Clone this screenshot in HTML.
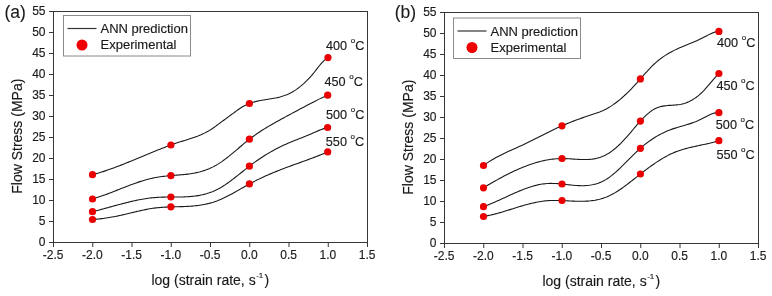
<!DOCTYPE html>
<html><head><meta charset="utf-8"><style>
html,body{margin:0;padding:0;background:#fff;}
svg{display:block;will-change:transform;}
text{font-family:"Liberation Sans",sans-serif;fill:#1a1a1a;stroke:#1a1a1a;stroke-width:0.15px;}
.tk{font-size:12px;}
.lg{font-size:13px;}
.tl{font-size:12.7px;}
.deg{font-size:8px;}
.sup{font-size:8px;}
.ax{font-size:14px;}
.pl{font-size:17.5px;stroke-width:0.1px;}
</style></head><body>
<svg width="772" height="296" viewBox="0 0 772 296">
<rect x="53.5" y="11.5" width="314.0" height="231.0" fill="none" stroke="#363636" stroke-width="1"/>
<line x1="49.0" y1="242.50" x2="53.5" y2="242.50" stroke="#363636" stroke-width="1"/>
<text x="45.5" y="245.90" class="tk" text-anchor="end">0</text>
<line x1="49.0" y1="221.50" x2="53.5" y2="221.50" stroke="#363636" stroke-width="1"/>
<text x="45.5" y="224.90" class="tk" text-anchor="end">5</text>
<line x1="49.0" y1="200.50" x2="53.5" y2="200.50" stroke="#363636" stroke-width="1"/>
<text x="45.5" y="203.90" class="tk" text-anchor="end">10</text>
<line x1="49.0" y1="179.50" x2="53.5" y2="179.50" stroke="#363636" stroke-width="1"/>
<text x="45.5" y="182.90" class="tk" text-anchor="end">15</text>
<line x1="49.0" y1="158.50" x2="53.5" y2="158.50" stroke="#363636" stroke-width="1"/>
<text x="45.5" y="161.90" class="tk" text-anchor="end">20</text>
<line x1="49.0" y1="137.50" x2="53.5" y2="137.50" stroke="#363636" stroke-width="1"/>
<text x="45.5" y="140.90" class="tk" text-anchor="end">25</text>
<line x1="49.0" y1="116.50" x2="53.5" y2="116.50" stroke="#363636" stroke-width="1"/>
<text x="45.5" y="119.90" class="tk" text-anchor="end">30</text>
<line x1="49.0" y1="95.50" x2="53.5" y2="95.50" stroke="#363636" stroke-width="1"/>
<text x="45.5" y="98.90" class="tk" text-anchor="end">35</text>
<line x1="49.0" y1="74.50" x2="53.5" y2="74.50" stroke="#363636" stroke-width="1"/>
<text x="45.5" y="77.90" class="tk" text-anchor="end">40</text>
<line x1="49.0" y1="53.50" x2="53.5" y2="53.50" stroke="#363636" stroke-width="1"/>
<text x="45.5" y="56.90" class="tk" text-anchor="end">45</text>
<line x1="49.0" y1="32.50" x2="53.5" y2="32.50" stroke="#363636" stroke-width="1"/>
<text x="45.5" y="35.90" class="tk" text-anchor="end">50</text>
<line x1="49.0" y1="11.50" x2="53.5" y2="11.50" stroke="#363636" stroke-width="1"/>
<text x="45.5" y="14.90" class="tk" text-anchor="end">55</text>
<line x1="53.50" y1="242.5" x2="53.50" y2="247.0" stroke="#363636" stroke-width="1"/>
<text x="53.20" y="259.1" class="tk" text-anchor="middle">-2.5</text>
<line x1="92.75" y1="242.5" x2="92.75" y2="247.0" stroke="#363636" stroke-width="1"/>
<text x="92.45" y="259.1" class="tk" text-anchor="middle">-2.0</text>
<line x1="132.00" y1="242.5" x2="132.00" y2="247.0" stroke="#363636" stroke-width="1"/>
<text x="131.70" y="259.1" class="tk" text-anchor="middle">-1.5</text>
<line x1="171.25" y1="242.5" x2="171.25" y2="247.0" stroke="#363636" stroke-width="1"/>
<text x="170.95" y="259.1" class="tk" text-anchor="middle">-1.0</text>
<line x1="210.50" y1="242.5" x2="210.50" y2="247.0" stroke="#363636" stroke-width="1"/>
<text x="210.20" y="259.1" class="tk" text-anchor="middle">-0.5</text>
<line x1="249.75" y1="242.5" x2="249.75" y2="247.0" stroke="#363636" stroke-width="1"/>
<text x="249.45" y="259.1" class="tk" text-anchor="middle">0.0</text>
<line x1="289.00" y1="242.5" x2="289.00" y2="247.0" stroke="#363636" stroke-width="1"/>
<text x="288.70" y="259.1" class="tk" text-anchor="middle">0.5</text>
<line x1="328.25" y1="242.5" x2="328.25" y2="247.0" stroke="#363636" stroke-width="1"/>
<text x="327.95" y="259.1" class="tk" text-anchor="middle">1.0</text>
<line x1="367.50" y1="242.5" x2="367.50" y2="247.0" stroke="#363636" stroke-width="1"/>
<text x="367.20" y="259.1" class="tk" text-anchor="middle">1.5</text>
<rect x="63.5" y="15.5" width="127" height="40.5" fill="#fff" stroke="#8a8a8a" stroke-width="1"/>
<line x1="67.5" y1="28.5" x2="96.5" y2="28.5" stroke="#333" stroke-width="1.2"/>
<circle cx="82.0" cy="45.0" r="5.5" fill="#f00000"/>
<text x="100.5" y="33.1" class="lg">ANN prediction</text>
<text x="100.5" y="49.1" class="lg">Experimental</text>
<path d="M92.50,174.70 L94.00,174.30 L95.50,173.88 L97.00,173.45 L98.50,173.01 L100.00,172.55 L101.50,172.08 L103.00,171.61 L104.50,171.12 L106.00,170.62 L107.50,170.10 L109.00,169.58 L110.50,169.05 L112.00,168.52 L113.50,167.97 L115.00,167.41 L116.50,166.85 L118.00,166.28 L119.50,165.70 L121.00,165.12 L122.50,164.53 L124.00,163.94 L125.50,163.34 L127.00,162.73 L128.50,162.12 L130.00,161.51 L131.50,160.90 L133.00,160.28 L134.50,159.66 L136.00,159.04 L137.50,158.41 L139.00,157.79 L140.50,157.16 L142.00,156.53 L143.50,155.91 L145.00,155.28 L146.50,154.66 L148.00,154.04 L149.50,153.42 L151.00,152.80 L152.50,152.18 L154.00,151.57 L155.50,150.96 L157.00,150.36 L158.50,149.76 L160.00,149.16 L161.50,148.57 L163.00,147.99 L164.50,147.41 L166.00,146.84 L167.50,146.28 L169.00,145.72 L170.50,145.18 L172.00,144.64 L173.50,144.11 L175.00,143.59 L176.50,143.07 L178.00,142.57 L179.50,142.08 L181.00,141.60 L182.50,141.13 L184.00,140.67 L185.50,140.21 L187.00,139.74 L188.50,139.27 L190.00,138.80 L191.50,138.31 L193.00,137.81 L194.50,137.29 L196.00,136.75 L197.50,136.19 L199.00,135.59 L200.50,134.97 L202.00,134.31 L203.50,133.62 L205.00,132.88 L206.50,132.10 L208.00,131.27 L209.50,130.39 L211.00,129.45 L212.50,128.47 L214.00,127.44 L215.50,126.37 L217.00,125.28 L218.50,124.17 L220.00,123.05 L221.50,121.93 L223.00,120.81 L224.50,119.69 L226.00,118.58 L227.50,117.48 L229.00,116.38 L230.50,115.28 L232.00,114.18 L233.50,113.08 L235.00,111.98 L236.50,110.89 L238.00,109.81 L239.50,108.76 L241.00,107.76 L242.50,106.84 L244.00,105.99 L245.50,105.21 L247.00,104.51 L248.50,103.87 L250.00,103.29 L251.50,102.76 L253.00,102.28 L254.50,101.86 L256.00,101.47 L257.50,101.11 L259.00,100.79 L260.50,100.50 L262.00,100.23 L263.50,99.97 L265.00,99.73 L266.50,99.50 L268.00,99.27 L269.50,99.03 L271.00,98.80 L272.50,98.55 L274.00,98.28 L275.50,97.99 L277.00,97.68 L278.50,97.34 L280.00,96.97 L281.50,96.55 L283.00,96.09 L284.50,95.58 L286.00,95.02 L287.50,94.40 L289.00,93.72 L290.50,92.97 L292.00,92.17 L293.50,91.29 L295.00,90.36 L296.50,89.35 L298.00,88.28 L299.50,87.15 L301.00,85.95 L302.50,84.68 L304.00,83.34 L305.50,81.93 L307.00,80.45 L308.50,78.90 L310.00,77.28 L311.50,75.59 L313.00,73.82 L314.50,71.99 L316.00,70.09 L317.50,68.17 L319.00,66.26 L320.50,64.42 L322.00,62.68 L323.50,61.09 L325.00,59.68 L326.50,58.50 L328.00,57.60" fill="none" stroke="#1a1a1a" stroke-width="1.1"/>
<path d="M92.50,199.00 L94.01,198.53 L95.52,198.07 L97.02,197.59 L98.53,197.10 L100.04,196.59 L101.55,196.07 L103.05,195.54 L104.56,194.99 L106.07,194.44 L107.58,193.87 L109.08,193.30 L110.59,192.73 L112.10,192.14 L113.61,191.56 L115.12,190.96 L116.62,190.37 L118.13,189.78 L119.64,189.18 L121.15,188.58 L122.65,187.99 L124.16,187.40 L125.67,186.81 L127.18,186.23 L128.68,185.65 L130.19,185.08 L131.70,184.52 L133.21,183.97 L134.72,183.43 L136.22,182.90 L137.73,182.38 L139.24,181.87 L140.75,181.38 L142.25,180.91 L143.76,180.45 L145.27,180.01 L146.78,179.58 L148.28,179.18 L149.79,178.80 L151.30,178.44 L152.81,178.10 L154.32,177.78 L155.82,177.50 L157.33,177.23 L158.84,176.99 L160.35,176.77 L161.85,176.57 L163.36,176.38 L164.87,176.22 L166.38,176.06 L167.88,175.92 L169.39,175.78 L170.90,175.65 L172.41,175.53 L173.92,175.41 L175.42,175.29 L176.93,175.17 L178.44,175.05 L179.95,174.92 L181.45,174.79 L182.96,174.65 L184.47,174.49 L185.98,174.33 L187.48,174.15 L188.99,173.95 L190.50,173.73 L192.01,173.50 L193.52,173.24 L195.02,172.95 L196.53,172.64 L198.04,172.30 L199.55,171.93 L201.05,171.52 L202.56,171.09 L204.07,170.61 L205.58,170.10 L207.08,169.54 L208.59,168.95 L210.10,168.30 L211.61,167.62 L213.12,166.88 L214.62,166.09 L216.13,165.25 L217.64,164.36 L219.15,163.41 L220.65,162.41 L222.16,161.37 L223.67,160.28 L225.18,159.16 L226.68,158.00 L228.19,156.82 L229.70,155.61 L231.21,154.37 L232.72,153.12 L234.22,151.86 L235.73,150.58 L237.24,149.30 L238.75,148.02 L240.25,146.74 L241.76,145.47 L243.27,144.20 L244.78,142.95 L246.28,141.72 L247.79,140.51 L249.30,139.32 L250.81,138.16 L252.32,137.04 L253.82,135.94 L255.33,134.86 L256.84,133.81 L258.35,132.78 L259.85,131.78 L261.36,130.80 L262.87,129.83 L264.38,128.89 L265.88,127.96 L267.39,127.05 L268.90,126.15 L270.41,125.27 L271.92,124.40 L273.42,123.53 L274.93,122.68 L276.44,121.84 L277.95,121.00 L279.45,120.17 L280.96,119.34 L282.47,118.52 L283.98,117.69 L285.48,116.87 L286.99,116.06 L288.50,115.24 L290.01,114.43 L291.52,113.62 L293.02,112.81 L294.53,112.00 L296.04,111.20 L297.55,110.40 L299.05,109.59 L300.56,108.80 L302.07,108.00 L303.58,107.20 L305.08,106.41 L306.59,105.61 L308.10,104.82 L309.61,104.03 L311.12,103.24 L312.62,102.45 L314.13,101.67 L315.64,100.90 L317.15,100.13 L318.65,99.37 L320.16,98.63 L321.67,97.91 L323.18,97.20 L324.68,96.50 L326.19,95.84 L327.70,95.20" fill="none" stroke="#1a1a1a" stroke-width="1.1"/>
<path d="M92.50,211.70 L94.01,211.31 L95.51,210.93 L97.02,210.55 L98.53,210.16 L100.04,209.76 L101.54,209.36 L103.05,208.95 L104.56,208.54 L106.06,208.13 L107.57,207.72 L109.08,207.30 L110.58,206.89 L112.09,206.47 L113.60,206.06 L115.11,205.65 L116.61,205.23 L118.12,204.83 L119.63,204.42 L121.13,204.02 L122.64,203.62 L124.15,203.23 L125.66,202.85 L127.16,202.47 L128.67,202.10 L130.18,201.74 L131.68,201.39 L133.19,201.04 L134.70,200.71 L136.20,200.38 L137.71,200.07 L139.22,199.77 L140.73,199.49 L142.23,199.21 L143.74,198.95 L145.25,198.71 L146.75,198.48 L148.26,198.27 L149.77,198.07 L151.28,197.89 L152.78,197.73 L154.29,197.59 L155.80,197.47 L157.30,197.37 L158.81,197.28 L160.32,197.21 L161.82,197.16 L163.33,197.12 L164.84,197.09 L166.35,197.06 L167.85,197.05 L169.36,197.04 L170.87,197.04 L172.37,197.03 L173.88,197.03 L175.39,197.03 L176.89,197.02 L178.40,197.01 L179.91,196.99 L181.42,196.96 L182.92,196.93 L184.43,196.88 L185.94,196.82 L187.44,196.74 L188.95,196.65 L190.46,196.53 L191.97,196.40 L193.47,196.24 L194.98,196.06 L196.49,195.86 L197.99,195.63 L199.50,195.37 L201.01,195.07 L202.51,194.75 L204.02,194.39 L205.53,193.99 L207.04,193.56 L208.54,193.09 L210.05,192.57 L211.56,192.02 L213.06,191.42 L214.57,190.77 L216.08,190.07 L217.59,189.32 L219.09,188.53 L220.60,187.67 L222.11,186.77 L223.61,185.83 L225.12,184.84 L226.63,183.81 L228.13,182.75 L229.64,181.66 L231.15,180.54 L232.66,179.40 L234.16,178.23 L235.67,177.05 L237.18,175.86 L238.68,174.65 L240.19,173.45 L241.70,172.24 L243.21,171.03 L244.71,169.82 L246.22,168.63 L247.73,167.45 L249.23,166.28 L250.74,165.14 L252.25,164.01 L253.75,162.91 L255.26,161.83 L256.77,160.76 L258.28,159.72 L259.78,158.70 L261.29,157.69 L262.80,156.71 L264.30,155.75 L265.81,154.81 L267.32,153.89 L268.83,152.98 L270.33,152.10 L271.84,151.24 L273.35,150.40 L274.85,149.58 L276.36,148.78 L277.87,148.00 L279.37,147.23 L280.88,146.49 L282.39,145.77 L283.90,145.07 L285.40,144.39 L286.91,143.72 L288.42,143.08 L289.92,142.44 L291.43,141.82 L292.94,141.21 L294.44,140.61 L295.95,140.01 L297.46,139.42 L298.97,138.82 L300.47,138.23 L301.98,137.64 L303.49,137.04 L304.99,136.43 L306.50,135.82 L308.01,135.20 L309.52,134.56 L311.02,133.91 L312.53,133.25 L314.04,132.59 L315.54,131.92 L317.05,131.27 L318.56,130.63 L320.06,130.01 L321.57,129.43 L323.08,128.87 L324.59,128.36 L326.09,127.90 L327.60,127.50" fill="none" stroke="#1a1a1a" stroke-width="1.1"/>
<path d="M92.50,219.50 L94.01,219.39 L95.52,219.28 L97.02,219.15 L98.53,219.00 L100.04,218.84 L101.55,218.66 L103.05,218.47 L104.56,218.26 L106.07,218.04 L107.58,217.81 L109.08,217.57 L110.59,217.31 L112.10,217.04 L113.61,216.76 L115.12,216.47 L116.62,216.17 L118.13,215.86 L119.64,215.54 L121.15,215.21 L122.65,214.87 L124.16,214.53 L125.67,214.17 L127.18,213.82 L128.68,213.46 L130.19,213.09 L131.70,212.73 L133.21,212.37 L134.72,212.01 L136.22,211.65 L137.73,211.30 L139.24,210.95 L140.75,210.61 L142.25,210.28 L143.76,209.96 L145.27,209.65 L146.78,209.35 L148.28,209.07 L149.79,208.80 L151.30,208.55 L152.81,208.32 L154.32,208.11 L155.82,207.92 L157.33,207.75 L158.84,207.60 L160.35,207.46 L161.85,207.35 L163.36,207.25 L164.87,207.16 L166.38,207.08 L167.88,207.02 L169.39,206.96 L170.90,206.91 L172.41,206.87 L173.92,206.83 L175.42,206.79 L176.93,206.75 L178.44,206.71 L179.95,206.67 L181.45,206.63 L182.96,206.58 L184.47,206.53 L185.98,206.46 L187.48,206.39 L188.99,206.30 L190.50,206.20 L192.01,206.08 L193.52,205.95 L195.02,205.81 L196.53,205.64 L198.04,205.45 L199.55,205.25 L201.05,205.02 L202.56,204.77 L204.07,204.49 L205.58,204.18 L207.08,203.85 L208.59,203.49 L210.10,203.10 L211.61,202.68 L213.12,202.23 L214.62,201.74 L216.13,201.22 L217.64,200.67 L219.15,200.07 L220.65,199.44 L222.16,198.78 L223.67,198.08 L225.18,197.36 L226.68,196.61 L228.19,195.84 L229.70,195.04 L231.21,194.23 L232.72,193.41 L234.22,192.57 L235.73,191.72 L237.24,190.86 L238.75,190.00 L240.25,189.13 L241.76,188.27 L243.27,187.41 L244.78,186.55 L246.28,185.70 L247.79,184.86 L249.30,184.03 L250.81,183.22 L252.32,182.42 L253.82,181.64 L255.33,180.87 L256.84,180.11 L258.35,179.37 L259.85,178.64 L261.36,177.92 L262.87,177.22 L264.38,176.53 L265.88,175.85 L267.39,175.18 L268.90,174.52 L270.41,173.87 L271.92,173.23 L273.42,172.60 L274.93,171.98 L276.44,171.37 L277.95,170.76 L279.45,170.17 L280.96,169.58 L282.47,169.00 L283.98,168.42 L285.48,167.85 L286.99,167.29 L288.50,166.73 L290.01,166.17 L291.52,165.62 L293.02,165.08 L294.53,164.53 L296.04,163.99 L297.55,163.45 L299.05,162.91 L300.56,162.36 L302.07,161.82 L303.58,161.28 L305.08,160.73 L306.59,160.19 L308.10,159.63 L309.61,159.08 L311.12,158.52 L312.62,157.95 L314.13,157.38 L315.64,156.81 L317.15,156.22 L318.65,155.63 L320.16,155.03 L321.67,154.42 L323.18,153.81 L324.68,153.18 L326.19,152.54 L327.70,151.90" fill="none" stroke="#1a1a1a" stroke-width="1.1"/>
<circle cx="92.5" cy="174.7" r="3.6" fill="#ea0000"/>
<circle cx="170.9" cy="145" r="3.6" fill="#ea0000"/>
<circle cx="249.4" cy="103.5" r="3.6" fill="#ea0000"/>
<circle cx="328" cy="57.6" r="3.6" fill="#ea0000"/>
<circle cx="92.5" cy="199" r="3.6" fill="#ea0000"/>
<circle cx="170.9" cy="175.6" r="3.6" fill="#ea0000"/>
<circle cx="249.4" cy="139.2" r="3.6" fill="#ea0000"/>
<circle cx="327.7" cy="95.2" r="3.6" fill="#ea0000"/>
<circle cx="92.5" cy="211.7" r="3.6" fill="#ea0000"/>
<circle cx="170.9" cy="197" r="3.6" fill="#ea0000"/>
<circle cx="249.4" cy="166.2" r="3.6" fill="#ea0000"/>
<circle cx="327.6" cy="127.5" r="3.6" fill="#ea0000"/>
<circle cx="92.5" cy="219.5" r="3.6" fill="#ea0000"/>
<circle cx="170.9" cy="206.8" r="3.6" fill="#ea0000"/>
<circle cx="249.4" cy="183.9" r="3.6" fill="#ea0000"/>
<circle cx="327.7" cy="151.9" r="3.6" fill="#ea0000"/>
<text x="326" y="50" class="tl">400 <tspan class="deg" dy="-7">o</tspan><tspan dy="7">C</tspan></text>
<text x="324.5" y="86" class="tl">450 <tspan class="deg" dy="-7">o</tspan><tspan dy="7">C</tspan></text>
<text x="326" y="118.5" class="tl">500 <tspan class="deg" dy="-7">o</tspan><tspan dy="7">C</tspan></text>
<text x="325.8" y="146" class="tl">550 <tspan class="deg" dy="-7">o</tspan><tspan dy="7">C</tspan></text>
<text x="4.5" y="17.6" class="pl">(a)</text>
<text x="151.4" y="284.9" class="ax">log (strain rate, s<tspan class="sup" dy="-7" dx="0.5">-1</tspan><tspan dy="7" dx="1.2">)</tspan></text>
<text transform="translate(21.6,136.2) rotate(-90)" class="ax" text-anchor="middle">Flow Stress (MPa)</text>
<rect x="444.5" y="12.5" width="314.0" height="231.0" fill="none" stroke="#363636" stroke-width="1"/>
<line x1="440.0" y1="243.50" x2="444.5" y2="243.50" stroke="#363636" stroke-width="1"/>
<text x="436.5" y="246.90" class="tk" text-anchor="end">0</text>
<line x1="440.0" y1="222.50" x2="444.5" y2="222.50" stroke="#363636" stroke-width="1"/>
<text x="436.5" y="225.90" class="tk" text-anchor="end">5</text>
<line x1="440.0" y1="201.50" x2="444.5" y2="201.50" stroke="#363636" stroke-width="1"/>
<text x="436.5" y="204.90" class="tk" text-anchor="end">10</text>
<line x1="440.0" y1="180.50" x2="444.5" y2="180.50" stroke="#363636" stroke-width="1"/>
<text x="436.5" y="183.90" class="tk" text-anchor="end">15</text>
<line x1="440.0" y1="159.50" x2="444.5" y2="159.50" stroke="#363636" stroke-width="1"/>
<text x="436.5" y="162.90" class="tk" text-anchor="end">20</text>
<line x1="440.0" y1="138.50" x2="444.5" y2="138.50" stroke="#363636" stroke-width="1"/>
<text x="436.5" y="141.90" class="tk" text-anchor="end">25</text>
<line x1="440.0" y1="117.50" x2="444.5" y2="117.50" stroke="#363636" stroke-width="1"/>
<text x="436.5" y="120.90" class="tk" text-anchor="end">30</text>
<line x1="440.0" y1="96.50" x2="444.5" y2="96.50" stroke="#363636" stroke-width="1"/>
<text x="436.5" y="99.90" class="tk" text-anchor="end">35</text>
<line x1="440.0" y1="75.50" x2="444.5" y2="75.50" stroke="#363636" stroke-width="1"/>
<text x="436.5" y="78.90" class="tk" text-anchor="end">40</text>
<line x1="440.0" y1="54.50" x2="444.5" y2="54.50" stroke="#363636" stroke-width="1"/>
<text x="436.5" y="57.90" class="tk" text-anchor="end">45</text>
<line x1="440.0" y1="33.50" x2="444.5" y2="33.50" stroke="#363636" stroke-width="1"/>
<text x="436.5" y="36.90" class="tk" text-anchor="end">50</text>
<line x1="440.0" y1="12.50" x2="444.5" y2="12.50" stroke="#363636" stroke-width="1"/>
<text x="436.5" y="15.90" class="tk" text-anchor="end">55</text>
<line x1="444.50" y1="243.5" x2="444.50" y2="248.0" stroke="#363636" stroke-width="1"/>
<text x="444.20" y="260.1" class="tk" text-anchor="middle">-2.5</text>
<line x1="483.75" y1="243.5" x2="483.75" y2="248.0" stroke="#363636" stroke-width="1"/>
<text x="483.45" y="260.1" class="tk" text-anchor="middle">-2.0</text>
<line x1="523.00" y1="243.5" x2="523.00" y2="248.0" stroke="#363636" stroke-width="1"/>
<text x="522.70" y="260.1" class="tk" text-anchor="middle">-1.5</text>
<line x1="562.25" y1="243.5" x2="562.25" y2="248.0" stroke="#363636" stroke-width="1"/>
<text x="561.95" y="260.1" class="tk" text-anchor="middle">-1.0</text>
<line x1="601.50" y1="243.5" x2="601.50" y2="248.0" stroke="#363636" stroke-width="1"/>
<text x="601.20" y="260.1" class="tk" text-anchor="middle">-0.5</text>
<line x1="640.75" y1="243.5" x2="640.75" y2="248.0" stroke="#363636" stroke-width="1"/>
<text x="640.45" y="260.1" class="tk" text-anchor="middle">0.0</text>
<line x1="680.00" y1="243.5" x2="680.00" y2="248.0" stroke="#363636" stroke-width="1"/>
<text x="679.70" y="260.1" class="tk" text-anchor="middle">0.5</text>
<line x1="719.25" y1="243.5" x2="719.25" y2="248.0" stroke="#363636" stroke-width="1"/>
<text x="718.95" y="260.1" class="tk" text-anchor="middle">1.0</text>
<line x1="758.50" y1="243.5" x2="758.50" y2="248.0" stroke="#363636" stroke-width="1"/>
<text x="758.20" y="260.1" class="tk" text-anchor="middle">1.5</text>
<rect x="453.5" y="18" width="127" height="40.5" fill="#fff" stroke="#8a8a8a" stroke-width="1"/>
<line x1="457.5" y1="31" x2="486.5" y2="31" stroke="#333" stroke-width="1.2"/>
<circle cx="472.0" cy="47.5" r="5.5" fill="#f00000"/>
<text x="490.5" y="35.6" class="lg">ANN prediction</text>
<text x="490.5" y="51.6" class="lg">Experimental</text>
<path d="M483.50,165.50 L485.01,164.41 L486.52,163.37 L488.03,162.36 L489.54,161.39 L491.04,160.45 L492.55,159.55 L494.06,158.67 L495.57,157.82 L497.08,157.00 L498.59,156.20 L500.10,155.42 L501.61,154.67 L503.12,153.93 L504.63,153.20 L506.13,152.49 L507.64,151.79 L509.15,151.10 L510.66,150.42 L512.17,149.74 L513.68,149.06 L515.19,148.39 L516.70,147.71 L518.21,147.03 L519.72,146.35 L521.22,145.65 L522.73,144.95 L524.24,144.24 L525.75,143.52 L527.26,142.79 L528.77,142.06 L530.28,141.31 L531.79,140.56 L533.30,139.81 L534.81,139.05 L536.31,138.29 L537.82,137.53 L539.33,136.77 L540.84,136.00 L542.35,135.24 L543.86,134.48 L545.37,133.72 L546.88,132.97 L548.39,132.21 L549.89,131.47 L551.40,130.73 L552.91,130.00 L554.42,129.27 L555.93,128.56 L557.44,127.85 L558.95,127.16 L560.46,126.47 L561.97,125.80 L563.48,125.14 L564.98,124.50 L566.49,123.87 L568.00,123.25 L569.51,122.64 L571.02,122.04 L572.53,121.45 L574.04,120.88 L575.55,120.31 L577.06,119.75 L578.57,119.20 L580.07,118.66 L581.58,118.13 L583.09,117.61 L584.60,117.09 L586.11,116.58 L587.62,116.07 L589.13,115.57 L590.64,115.08 L592.15,114.58 L593.66,114.09 L595.16,113.59 L596.67,113.07 L598.18,112.52 L599.69,111.95 L601.20,111.34 L602.71,110.69 L604.22,109.98 L605.73,109.22 L607.24,108.41 L608.74,107.54 L610.25,106.62 L611.76,105.65 L613.27,104.63 L614.78,103.56 L616.29,102.44 L617.80,101.27 L619.31,100.06 L620.82,98.80 L622.33,97.49 L623.83,96.15 L625.34,94.76 L626.85,93.33 L628.36,91.86 L629.87,90.35 L631.38,88.81 L632.89,87.23 L634.40,85.61 L635.91,83.96 L637.42,82.28 L638.92,80.58 L640.43,78.86 L641.94,77.15 L643.45,75.43 L644.96,73.73 L646.47,72.05 L647.98,70.40 L649.49,68.78 L651.00,67.22 L652.51,65.70 L654.01,64.25 L655.52,62.87 L657.03,61.55 L658.54,60.30 L660.05,59.11 L661.56,57.97 L663.07,56.89 L664.58,55.86 L666.09,54.88 L667.59,53.95 L669.10,53.06 L670.61,52.21 L672.12,51.40 L673.63,50.62 L675.14,49.87 L676.65,49.15 L678.16,48.46 L679.67,47.80 L681.18,47.15 L682.68,46.52 L684.19,45.90 L685.70,45.29 L687.21,44.68 L688.72,44.07 L690.23,43.47 L691.74,42.85 L693.25,42.22 L694.76,41.58 L696.27,40.92 L697.77,40.24 L699.28,39.53 L700.79,38.78 L702.30,38.01 L703.81,37.22 L705.32,36.42 L706.83,35.64 L708.34,34.87 L709.85,34.14 L711.36,33.47 L712.86,32.86 L714.37,32.33 L715.88,31.90 L717.39,31.58 L718.90,31.40" fill="none" stroke="#1a1a1a" stroke-width="1.1"/>
<path d="M483.50,187.80 L485.01,186.86 L486.52,185.96 L488.03,185.07 L489.54,184.19 L491.04,183.31 L492.55,182.44 L494.06,181.57 L495.57,180.72 L497.08,179.88 L498.59,179.04 L500.10,178.21 L501.61,177.40 L503.12,176.59 L504.63,175.80 L506.13,175.02 L507.64,174.25 L509.15,173.49 L510.66,172.75 L512.17,172.02 L513.68,171.30 L515.19,170.60 L516.70,169.91 L518.21,169.24 L519.72,168.59 L521.22,167.95 L522.73,167.33 L524.24,166.72 L525.75,166.14 L527.26,165.57 L528.77,165.02 L530.28,164.48 L531.79,163.97 L533.30,163.48 L534.81,163.01 L536.31,162.56 L537.82,162.13 L539.33,161.72 L540.84,161.34 L542.35,160.98 L543.86,160.64 L545.37,160.33 L546.88,160.03 L548.39,159.77 L549.89,159.53 L551.40,159.31 L552.91,159.12 L554.42,158.96 L555.93,158.82 L557.44,158.72 L558.95,158.64 L560.46,158.58 L561.97,158.56 L563.48,158.56 L564.98,158.59 L566.49,158.65 L568.00,158.72 L569.51,158.80 L571.02,158.89 L572.53,158.99 L574.04,159.10 L575.55,159.20 L577.06,159.29 L578.57,159.38 L580.07,159.45 L581.58,159.51 L583.09,159.54 L584.60,159.55 L586.11,159.53 L587.62,159.48 L589.13,159.39 L590.64,159.26 L592.15,159.09 L593.66,158.87 L595.16,158.60 L596.67,158.27 L598.18,157.89 L599.69,157.43 L601.20,156.92 L602.71,156.33 L604.22,155.66 L605.73,154.92 L607.24,154.10 L608.74,153.19 L610.25,152.20 L611.76,151.14 L613.27,150.01 L614.78,148.80 L616.29,147.52 L617.80,146.17 L619.31,144.75 L620.82,143.28 L622.33,141.73 L623.83,140.13 L625.34,138.48 L626.85,136.78 L628.36,135.05 L629.87,133.29 L631.38,131.52 L632.89,129.74 L634.40,127.96 L635.91,126.19 L637.42,124.45 L638.92,122.73 L640.43,121.05 L641.94,119.43 L643.45,117.85 L644.96,116.35 L646.47,114.92 L647.98,113.58 L649.49,112.33 L651.00,111.18 L652.51,110.15 L654.01,109.24 L655.52,108.45 L657.03,107.79 L658.54,107.23 L660.05,106.77 L661.56,106.40 L663.07,106.10 L664.58,105.87 L666.09,105.68 L667.59,105.54 L669.10,105.42 L670.61,105.33 L672.12,105.24 L673.63,105.14 L675.14,105.03 L676.65,104.89 L678.16,104.72 L679.67,104.49 L681.18,104.20 L682.68,103.85 L684.19,103.43 L685.70,102.94 L687.21,102.37 L688.72,101.73 L690.23,101.01 L691.74,100.21 L693.25,99.32 L694.76,98.35 L696.27,97.28 L697.77,96.13 L699.28,94.87 L700.79,93.52 L702.30,92.08 L703.81,90.53 L705.32,88.89 L706.83,87.19 L708.34,85.44 L709.85,83.66 L711.36,81.88 L712.86,80.10 L714.37,78.36 L715.88,76.66 L717.39,75.03 L718.90,73.50" fill="none" stroke="#1a1a1a" stroke-width="1.1"/>
<path d="M483.50,206.70 L485.01,206.13 L486.52,205.56 L488.03,204.97 L489.54,204.36 L491.04,203.73 L492.55,203.09 L494.06,202.44 L495.57,201.78 L497.08,201.10 L498.59,200.42 L500.10,199.73 L501.61,199.04 L503.12,198.34 L504.63,197.64 L506.13,196.94 L507.64,196.24 L509.15,195.55 L510.66,194.86 L512.17,194.17 L513.68,193.49 L515.19,192.82 L516.70,192.16 L518.21,191.52 L519.72,190.88 L521.22,190.26 L522.73,189.66 L524.24,189.08 L525.75,188.51 L527.26,187.97 L528.77,187.45 L530.28,186.95 L531.79,186.48 L533.30,186.04 L534.81,185.63 L536.31,185.24 L537.82,184.89 L539.33,184.58 L540.84,184.29 L542.35,184.05 L543.86,183.84 L545.37,183.68 L546.88,183.55 L548.39,183.47 L549.89,183.42 L551.40,183.41 L552.91,183.43 L554.42,183.48 L555.93,183.56 L557.44,183.66 L558.95,183.77 L560.46,183.91 L561.97,184.06 L563.48,184.21 L564.98,184.38 L566.49,184.54 L568.00,184.71 L569.51,184.87 L571.02,185.03 L572.53,185.18 L574.04,185.31 L575.55,185.43 L577.06,185.53 L578.57,185.61 L580.07,185.67 L581.58,185.69 L583.09,185.69 L584.60,185.65 L586.11,185.57 L587.62,185.45 L589.13,185.28 L590.64,185.07 L592.15,184.81 L593.66,184.49 L595.16,184.12 L596.67,183.68 L598.18,183.19 L599.69,182.62 L601.20,181.99 L602.71,181.28 L604.22,180.50 L605.73,179.64 L607.24,178.70 L608.74,177.68 L610.25,176.59 L611.76,175.43 L613.27,174.21 L614.78,172.93 L616.29,171.61 L617.80,170.24 L619.31,168.84 L620.82,167.40 L622.33,165.93 L623.83,164.45 L625.34,162.94 L626.85,161.43 L628.36,159.91 L629.87,158.39 L631.38,156.88 L632.89,155.38 L634.40,153.89 L635.91,152.43 L637.42,151.00 L638.92,149.60 L640.43,148.24 L641.94,146.92 L643.45,145.65 L644.96,144.42 L646.47,143.24 L647.98,142.10 L649.49,141.00 L651.00,139.94 L652.51,138.92 L654.01,137.94 L655.52,137.00 L657.03,136.10 L658.54,135.24 L660.05,134.42 L661.56,133.63 L663.07,132.89 L664.58,132.17 L666.09,131.50 L667.59,130.85 L669.10,130.24 L670.61,129.67 L672.12,129.13 L673.63,128.62 L675.14,128.13 L676.65,127.66 L678.16,127.21 L679.67,126.77 L681.18,126.34 L682.68,125.91 L684.19,125.48 L685.70,125.04 L687.21,124.59 L688.72,124.12 L690.23,123.64 L691.74,123.13 L693.25,122.59 L694.76,122.02 L696.27,121.41 L697.77,120.76 L699.28,120.06 L700.79,119.32 L702.30,118.53 L703.81,117.74 L705.32,116.94 L706.83,116.16 L708.34,115.41 L709.85,114.72 L711.36,114.10 L712.86,113.57 L714.37,113.14 L715.88,112.84 L717.39,112.68 L718.90,112.70" fill="none" stroke="#1a1a1a" stroke-width="1.1"/>
<path d="M483.50,216.50 L485.01,216.23 L486.52,215.95 L488.03,215.65 L489.54,215.33 L491.04,214.98 L492.55,214.62 L494.06,214.25 L495.57,213.86 L497.08,213.45 L498.59,213.03 L500.10,212.60 L501.61,212.17 L503.12,211.72 L504.63,211.26 L506.13,210.80 L507.64,210.34 L509.15,209.87 L510.66,209.39 L512.17,208.92 L513.68,208.45 L515.19,207.98 L516.70,207.51 L518.21,207.05 L519.72,206.59 L521.22,206.14 L522.73,205.69 L524.24,205.26 L525.75,204.84 L527.26,204.43 L528.77,204.03 L530.28,203.64 L531.79,203.27 L533.30,202.92 L534.81,202.59 L536.31,202.28 L537.82,201.99 L539.33,201.72 L540.84,201.47 L542.35,201.25 L543.86,201.05 L545.37,200.88 L546.88,200.74 L548.39,200.63 L549.89,200.55 L551.40,200.49 L552.91,200.45 L554.42,200.44 L555.93,200.44 L557.44,200.46 L558.95,200.49 L560.46,200.53 L561.97,200.59 L563.48,200.65 L564.98,200.72 L566.49,200.80 L568.00,200.87 L569.51,200.95 L571.02,201.02 L572.53,201.09 L574.04,201.15 L575.55,201.20 L577.06,201.25 L578.57,201.28 L580.07,201.29 L581.58,201.29 L583.09,201.27 L584.60,201.23 L586.11,201.17 L587.62,201.08 L589.13,200.96 L590.64,200.82 L592.15,200.64 L593.66,200.43 L595.16,200.19 L596.67,199.90 L598.18,199.58 L599.69,199.22 L601.20,198.81 L602.71,198.36 L604.22,197.85 L605.73,197.30 L607.24,196.70 L608.74,196.04 L610.25,195.33 L611.76,194.56 L613.27,193.74 L614.78,192.88 L616.29,191.97 L617.80,191.02 L619.31,190.03 L620.82,189.00 L622.33,187.95 L623.83,186.86 L625.34,185.76 L626.85,184.62 L628.36,183.47 L629.87,182.31 L631.38,181.13 L632.89,179.95 L634.40,178.75 L635.91,177.56 L637.42,176.36 L638.92,175.17 L640.43,173.99 L641.94,172.81 L643.45,171.65 L644.96,170.50 L646.47,169.36 L647.98,168.24 L649.49,167.13 L651.00,166.05 L652.51,164.98 L654.01,163.93 L655.52,162.90 L657.03,161.90 L658.54,160.92 L660.05,159.96 L661.56,159.04 L663.07,158.14 L664.58,157.27 L666.09,156.43 L667.59,155.62 L669.10,154.85 L670.61,154.11 L672.12,153.41 L673.63,152.75 L675.14,152.12 L676.65,151.53 L678.16,150.97 L679.67,150.44 L681.18,149.94 L682.68,149.47 L684.19,149.02 L685.70,148.60 L687.21,148.20 L688.72,147.81 L690.23,147.44 L691.74,147.09 L693.25,146.75 L694.76,146.42 L696.27,146.09 L697.77,145.77 L699.28,145.46 L700.79,145.14 L702.30,144.83 L703.81,144.51 L705.32,144.19 L706.83,143.86 L708.34,143.52 L709.85,143.17 L711.36,142.80 L712.86,142.42 L714.37,142.03 L715.88,141.61 L717.39,141.17 L718.90,140.70" fill="none" stroke="#1a1a1a" stroke-width="1.1"/>
<circle cx="483.5" cy="165.5" r="3.6" fill="#ea0000"/>
<circle cx="562" cy="125.8" r="3.6" fill="#ea0000"/>
<circle cx="640.4" cy="78.9" r="3.6" fill="#ea0000"/>
<circle cx="718.9" cy="31.4" r="3.6" fill="#ea0000"/>
<circle cx="483.5" cy="187.8" r="3.6" fill="#ea0000"/>
<circle cx="562" cy="158.5" r="3.6" fill="#ea0000"/>
<circle cx="640.4" cy="121.1" r="3.6" fill="#ea0000"/>
<circle cx="718.9" cy="73.5" r="3.6" fill="#ea0000"/>
<circle cx="483.5" cy="206.7" r="3.6" fill="#ea0000"/>
<circle cx="562" cy="184" r="3.6" fill="#ea0000"/>
<circle cx="640.4" cy="148.3" r="3.6" fill="#ea0000"/>
<circle cx="718.9" cy="112.7" r="3.6" fill="#ea0000"/>
<circle cx="483.5" cy="216.5" r="3.6" fill="#ea0000"/>
<circle cx="562" cy="200.5" r="3.6" fill="#ea0000"/>
<circle cx="640.4" cy="174" r="3.6" fill="#ea0000"/>
<circle cx="718.9" cy="140.7" r="3.6" fill="#ea0000"/>
<text x="717" y="46.8" class="tl">400 <tspan class="deg" dy="-7">o</tspan><tspan dy="7">C</tspan></text>
<text x="716.4" y="90" class="tl">450 <tspan class="deg" dy="-7">o</tspan><tspan dy="7">C</tspan></text>
<text x="715.8" y="129" class="tl">500 <tspan class="deg" dy="-7">o</tspan><tspan dy="7">C</tspan></text>
<text x="716.4" y="158.6" class="tl">550 <tspan class="deg" dy="-7">o</tspan><tspan dy="7">C</tspan></text>
<text x="394.7" y="17.6" class="pl">(b)</text>
<text x="542.4" y="285.9" class="ax">log (strain rate, s<tspan class="sup" dy="-7" dx="0.5">-1</tspan><tspan dy="7" dx="1.2">)</tspan></text>
<text transform="translate(412.9,137.2) rotate(-90)" class="ax" text-anchor="middle">Flow Stress (MPa)</text>
</svg>
</body></html>
